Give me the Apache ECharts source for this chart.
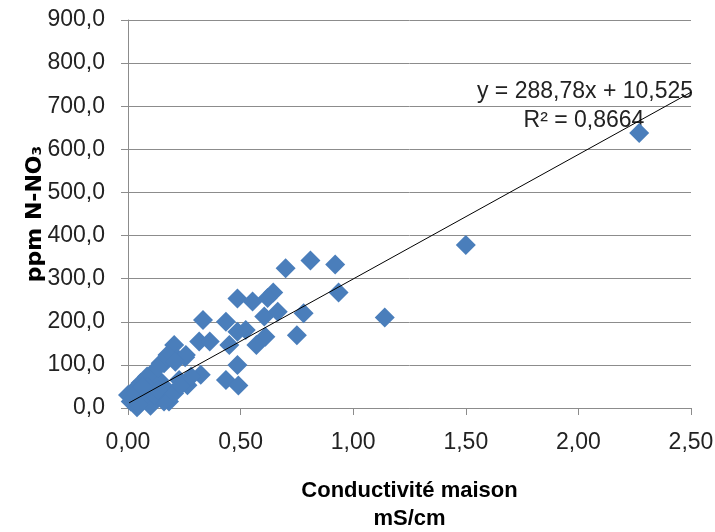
<!DOCTYPE html>
<html>
<head>
<meta charset="utf-8">
<script src="https://cdn.jsdelivr.net/npm/echarts@6/dist/echarts.min.js"></script>
<style>
  html, body { margin: 0; padding: 0; background: #fff; }
  #chart { width: 715px; height: 532px; }
</style>
</head>
<body>
<div id="chart"></div>
<script>
// conductivité (mS/cm)
const conductivite = [
  2.27, 1.50, 1.14, 0.935, 0.92, 0.81, 0.78, 0.75, 0.70, 0.645,
  0.62, 0.665, 0.605, 0.61, 0.57, 0.486, 0.553, 0.523, 0.486, 0.435,
  0.45, 0.486, 0.435, 0.49, 0.333, 0.316, 0.363, 0.323, 0.205, 0.254,
  0.22, 0.16, 0.264, 0.227, 0.175, 0.182, 0.138, 0.175, 0.257, 0.145,
  0.21, 0.13, 0.085, 0.056, 0.027, 0.0, 0.012, 0.04, 0.10, 0.16,
  0.205, 0.234, 0.28, 0.07, 0.116, 0.085, 0.13, 0.034, 0.064, 0.05
];
// ppm N-NO3
const nitrate = [
  638, 378, 210, 268, 333, 342, 220, 169, 324, 268,
  255, 223, 212, 165, 146, 254, 247, 181, 177, 200,
  146, 100, 65, 52, 204, 154, 154, 77, 146, 118,
  115, 104, 53, 65, 42, 15, 65, 123, 123, 104,
  107, 93, 73, 58, 42, 30, 15, 2, 5, 15,
  34, 53, 73, 26, 30, 49, 42, 34, 49, 8
];
// courbe de tendance linéaire
const pente = 288.78;
const origine = 10.525;
const tendanceX = [0.005, 2.5];

const points = conductivite.map((x, i) => [x, nitrate[i]]);
const tendance = tendanceX.map(x => [x, pente * x + origine]);

const chart = echarts.init(document.getElementById('chart'));
const labelFont = '"Liberation Sans", Arial, sans-serif';
const gridColor = '#8c8c8c';

chart.setOption({
  animation: false,
  grid: { left: 128, right: 24, top: 20, bottom: 124, outerBoundsMode: 'none' },
  xAxis: {
    type: 'value',
    min: 0,
    max: 2.5,
    interval: 0.5,
    name: 'Conductivité maison\nmS/cm',
    nameLocation: 'middle',
    nameGap: 69,
    nameMoveOverlap: false,
    nameTextStyle: { fontFamily: labelFont, fontSize: 22, fontWeight: 'bold', color: '#000', lineHeight: 28 },
    axisLine: { lineStyle: { color: gridColor } },
    axisTick: { show: true, length: 7, lineStyle: { color: gridColor } },
    splitLine: { show: false },
    axisLabel: {
      fontFamily: labelFont, fontSize: 23, color: '#222', margin: 23,
      formatter: v => v.toFixed(2).replace('.', ',')
    }
  },
  yAxis: {
    type: 'value',
    min: 0,
    max: 900,
    interval: 100,
    name: 'ppm N-NO₃',
    nameLocation: 'middle',
    nameGap: 82,
    nameMoveOverlap: false,
    nameTextStyle: { fontFamily: '"DejaVu Sans", sans-serif', fontSize: 22, fontWeight: 'bold', color: '#000' },
    axisLine: { show: true, lineStyle: { color: gridColor } },
    axisTick: { show: true, length: 7, lineStyle: { color: gridColor } },
    splitLine: { lineStyle: { color: gridColor, width: 1 } },
    axisLabel: {
      fontFamily: labelFont, fontSize: 23, color: '#222', margin: 23,
      formatter: v => v.toFixed(1).replace('.', ',')
    }
  },
  series: [
    {
      type: 'scatter',
      data: points,
      symbol: 'diamond',
      symbolSize: [20, 20],
      itemStyle: { color: '#4a7ebb', opacity: 1 }
    },
    {
      type: 'line',
      data: tendance,
      symbol: 'none',
      lineStyle: { color: '#000', width: 1 },
      z: 3
    }
  ],
  graphic: [
    {
      type: 'text', x: 585, y: 92,
      style: {
        text: 'y = 288,78x + 10,525', fontFamily: labelFont, fontSize: 23, fill: '#222',
        align: 'center', verticalAlign: 'middle'
      }
    },
    {
      type: 'text', x: 584, y: 121,
      style: {
        text: 'R² = 0,8664', fontFamily: labelFont, fontSize: 23, fill: '#222',
        align: 'center', verticalAlign: 'middle'
      }
    }
  ]
});
</script>
</body>
</html>
